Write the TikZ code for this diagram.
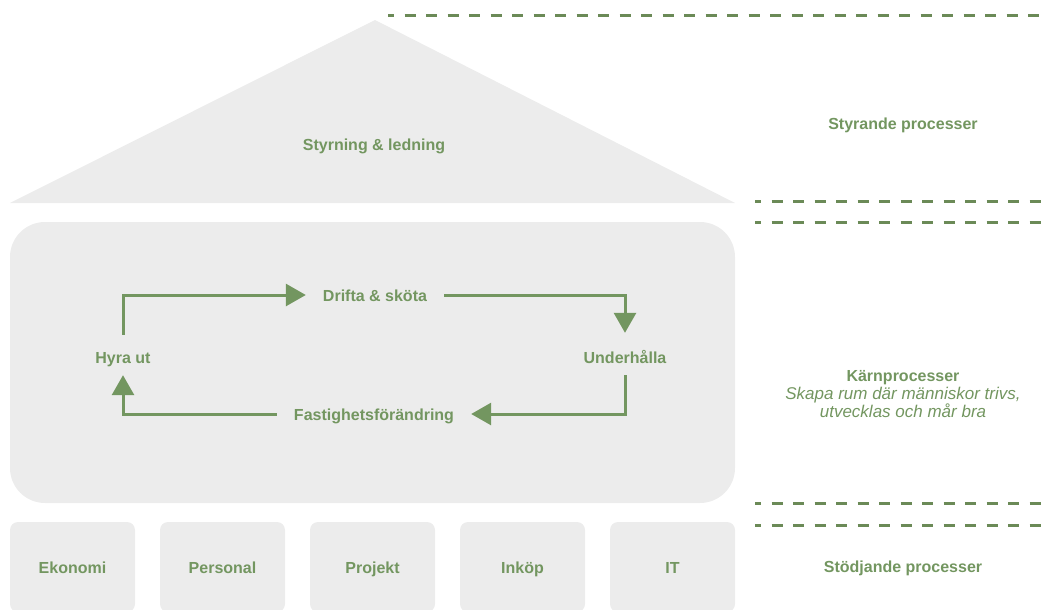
\documentclass[tikz,border=0pt]{standalone}
\usepackage{fontspec}
\setmainfont{Liberation Sans}
\usetikzlibrary{arrows.meta}
\definecolor{grn}{HTML}{739660}
\definecolor{dgrn}{HTML}{6B8A57}
\definecolor{lgray}{HTML}{ECECEC}

\begin{document}
\begin{tikzpicture}[x=1pt,y=-1pt,
    lbl/.style={text=grn,font=\fontsize{16}{19}\selectfont\bfseries,inner xsep=17pt,inner ysep=11pt,text height=13pt,text depth=1pt},
    side/.style={text=grn,font=\fontsize{16}{19}\selectfont,align=center},
    flow/.style={draw=grn,line width=3pt,-{Triangle[length=20pt,width=22pt]}},
    sep/.style={draw=dgrn,line width=3pt,dash pattern=on 11pt off 10.5pt,dash phase=5pt},
    unit/.style={fill=lgray,rounded corners=8pt,minimum width=125pt,minimum height=90pt,text=grn,font=\fontsize{16}{19}\selectfont\bfseries,text height=13pt,text depth=1pt}]
      \useasboundingbox (0,0) rectangle (1050,610);
      \fill[lgray] (10,203) -- (375,20) -- (735,203) -- cycle;
      \node[lbl] (roof) at (374,144) {Styrning \& ledning};
      \node[fill=lgray,rounded corners=35pt,minimum width=725pt,minimum height=281pt] (core) at (372.5,362.5) {};
      \node[lbl] (hyra) at (123,357) {Hyra ut};
      \node[lbl] (drifta) at (375,295) {Drifta \& sköta};
      \node[lbl] (under) at (625,357) {Underhålla};
      \node[lbl] (fast) at (374,414) {Fastighetsförändring};
      \draw[flow,shorten <=4pt] (hyra.north) |- (drifta.west);
      \draw[flow,shorten >=6pt] (drifta.east) -| (under.north);
      \draw[flow] (under.south) |- (fast.east);
      \draw[flow] (fast.west) -| (hyra.south);
      \node[unit] (ekonomi) at (72.5,567) {Ekonomi};
      \node[unit] (personal) at (222.5,567) {Personal};
      \node[unit] (projekt) at (372.5,567) {Projekt};
      \node[unit] (inkop) at (522.5,567) {Inköp};
      \node[unit] (it) at (672.5,567) {IT};
      \draw[sep] (388,16) -- (1045,16);
      \foreach \y in {201,222,503,525}
        \draw[sep] (755,\y) -- (1045,\y);
      \node[side] (styr) at (903,125) {\bfseries Styrande processer};
      \node[side] (karn) at (903,394) {\bfseries Kärnprocesser\\[-1pt]\fontsize{17}{19}\selectfont\itshape Skapa rum där människor trivs,\\[-0.5pt]\fontsize{17}{19}\selectfont\itshape utvecklas och mår bra};
      \node[side] (stod) at (903,568) {\bfseries Stödjande processer};
\end{tikzpicture}
\end{document}
